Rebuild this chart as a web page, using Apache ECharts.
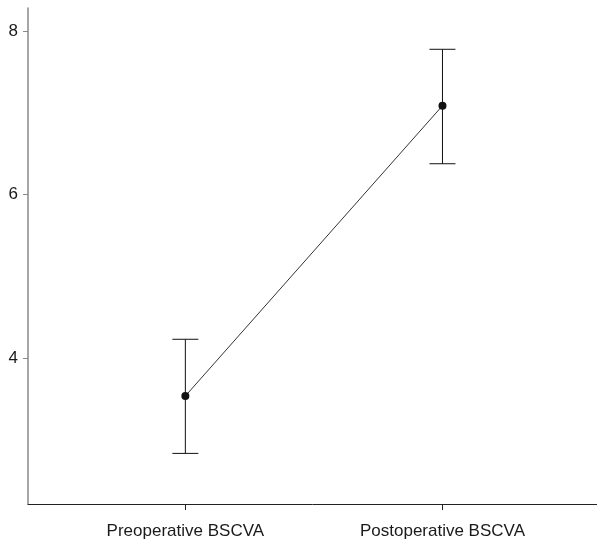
<!DOCTYPE html>
<html>
<head>
<meta charset="utf-8">
<style>
  html, body { margin: 0; padding: 0; background: #fff; }
  #chart { width: 597px; height: 541px; }
</style>
<script src="https://cdn.jsdelivr.net/npm/echarts@6/dist/echarts.min.js"></script>
</head>
<body>
<div id="chart"></div>
<script>
// Mean BSCVA before and after surgery, with error bars
const categories = ['Preoperative BSCVA', 'Postoperative BSCVA'];
const meanValues = [3.535, 7.086];
const lowerValues = [2.833, 6.376];
const upperValues = [4.229, 7.776];
const yTickValues = [4, 6, 8];

// categories are placed at x = 1, 2 on a numeric axis
const xPositions = categories.map((_, i) => i + 1);

const lineData = xPositions.map((x, i) => [x, meanValues[i]]);
const errorData = xPositions.map((x, i) => [x, lowerValues[i], upperValues[i]]);

const font = "'Liberation Sans', Arial, Helvetica, sans-serif";
const chart = echarts.init(document.getElementById('chart'));

chart.setOption({
  animation: false,
  grid: { left: 28, right: 0, top: 8, bottom: 37, containLabel: false },
  xAxis: {
    type: 'value',
    min: 0.388,
    max: 2.601,
    splitLine: { show: false },
    axisLine: { show: true, onZero: false, lineStyle: { color: '#222', width: 1 } },
    axisTick: { show: true, customValues: xPositions, length: 6, lineStyle: { color: '#222' } },
    axisLabel: {
      customValues: xPositions,
      formatter: v => categories[Math.round(v) - 1] || '',
      margin: 19,
      color: '#1a1a1a',
      fontSize: 17,
      fontFamily: font
    }
  },
  yAxis: {
    type: 'value',
    min: 2.214,
    max: 8.281,
    splitLine: { show: false },
    axisLine: { show: true, onZero: false, lineStyle: { color: '#888', width: 1.5 } },
    axisTick: { show: true, customValues: yTickValues, length: 5, lineStyle: { color: '#888' } },
    axisLabel: {
      customValues: yTickValues,
      margin: 10,
      color: '#1a1a1a',
      fontSize: 17,
      fontFamily: font
    }
  },
  series: [
    {
      type: 'custom',
      data: errorData,
      renderItem: function (params, api) {
        const x = api.value(0);
        const lo = api.coord([x, api.value(1)]);
        const hi = api.coord([x, api.value(2)]);
        const half = 13;
        const style = { stroke: '#111', lineWidth: 1 };
        return {
          type: 'group',
          children: [
            { type: 'line', shape: { x1: lo[0], y1: lo[1], x2: hi[0], y2: hi[1] }, style },
            { type: 'line', shape: { x1: hi[0] - half, y1: hi[1], x2: hi[0] + half, y2: hi[1] }, style },
            { type: 'line', shape: { x1: lo[0] - half, y1: lo[1], x2: lo[0] + half, y2: lo[1] }, style }
          ]
        };
      },
      z: 2
    },
    {
      type: 'line',
      data: lineData,
      symbol: 'circle',
      symbolSize: 8,
      lineStyle: { color: '#333', width: 1 },
      itemStyle: { color: '#111' },
      z: 3
    }
  ]
});
</script>
</body>
</html>
